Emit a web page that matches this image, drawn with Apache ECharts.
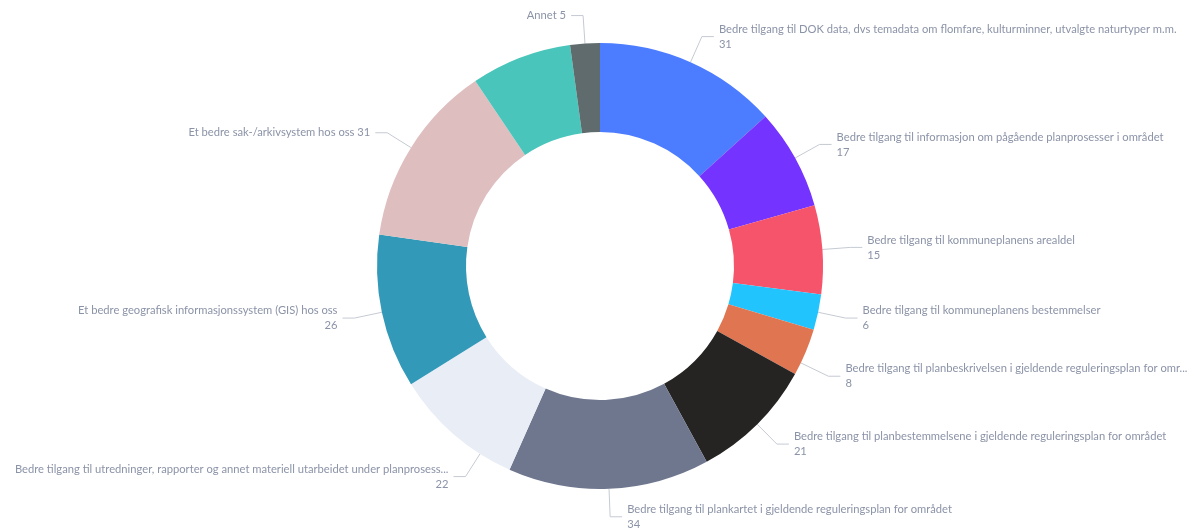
<!DOCTYPE html>
<html><head><meta charset="utf-8">
<script src="https://cdn.jsdelivr.net/npm/echarts@6/dist/echarts.min.js"></script>
<style>html,body{margin:0;padding:0;background:#fff}#c{width:1193px;height:529px}</style>
</head><body><div id="c"></div>
<script>
const categories = [
  "Bedre tilgang til DOK data, dvs temadata om flomfare, kulturminner, utvalgte naturtyper m.m.",
  "Bedre tilgang til informasjon om pågående planprosesser i området",
  "Bedre tilgang til kommuneplanens arealdel",
  "Bedre tilgang til kommuneplanens bestemmelser",
  "Bedre tilgang til planbeskrivelsen i gjeldende reguleringsplan for omr...",
  "Bedre tilgang til planbestemmelsene i gjeldende reguleringsplan for området",
  "Bedre tilgang til plankartet i gjeldende reguleringsplan for området",
  "Bedre tilgang til utredninger, rapporter og annet materiell utarbeidet under planprosess...",
  "Et bedre geografisk informasjonssystem (GIS) hos oss",
  "Et bedre sak-/arkivsystem hos oss",
  "Annet verktøy",
  "Annet"
];
const values = [31, 17, 15, 6, 8, 21, 34, 22, 26, 31, 17, 5];
const colors = ["#4C7CFF", "#7433FF", "#F6546A", "#22C4FE", "#E07551", "#252423",
                "#6F778F", "#E9EDF6", "#3399B8", "#DEBEBE", "#4AC5BB", "#5F6B6D"];
const singleLine = [false, false, false, false, false, false, false, false, false, true, false, true];
const hidden = [false, false, false, false, false, false, false, false, false, false, true, false];

// label nudges (styling only)
const labelShift = { 4: [-3, 13], 7: [30, 21] };
const CX = 600, CY = 266, R_IN = 134, R_OUT = 223, LEN2 = 12;

const data = categories.map((n, i) => ({
  name: n, value: values[i],
  itemStyle: { color: colors[i] },
  label: { show: !hidden[i] },
  labelLine: { show: !hidden[i] }
}));
data[7].label.width = 470;
data[7].label.overflow = 'none';

const chart = echarts.init(document.getElementById('c'));
chart.setOption({
  animation: false,
  series: [{
    type: 'pie',
    center: [CX, CY],
    radius: [R_IN, R_OUT],
    startAngle: 90,
    clockwise: true,
    avoidLabelOverlap: false,
    data: data,
    label: {
      show: true,
      position: 'outside',
      color: '#8B93A7',
      fontFamily: 'Lato, "Noto Sans", sans-serif',
      fontSize: 11.2,
      lineHeight: 15,
      formatter: p => singleLine[p.dataIndex] ? p.name + ' ' + p.value : p.name + '\n' + p.value
    },
    labelLine: {
      show: true,
      length: 28,
      length2: LEN2,
      lineStyle: { color: '#C5CAD3', width: 1 }
    },
    labelLayout: function (p) {
      const s = labelShift[p.dataIndex];
      if (!s || !p.labelLinePoints) return {};
      const pts = p.labelLinePoints;
      const p2 = [pts[2][0] + s[0], pts[2][1] + s[1]];
      const dir = pts[2][0] < pts[1][0] ? 1 : -1;
      const p1 = [p2[0] + dir * LEN2, p2[1]];
      const ang = Math.atan2(p1[1] - CY, p1[0] - CX);
      const p0 = [CX + R_OUT * Math.cos(ang), CY + R_OUT * Math.sin(ang)];
      return { dx: s[0], dy: s[1], labelLinePoints: [p0, p1, p2] };
    },
    emphasis: { disabled: true }
  }]
});
</script></body></html>
